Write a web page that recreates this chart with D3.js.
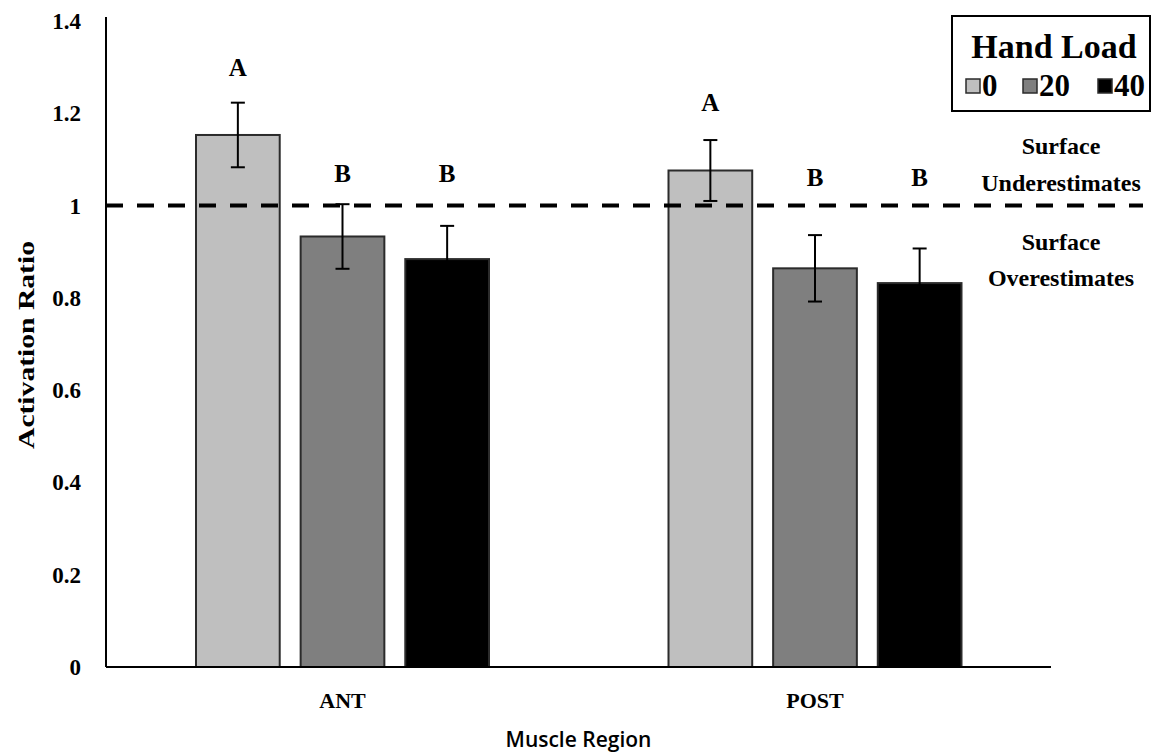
<!DOCTYPE html>
<html lang="en">
<head>
  <meta charset="utf-8">
  <title>Activation Ratio by Muscle Region</title>
  <script src="https://cdn.jsdelivr.net/npm/d3@7"></script>
  <style>
    body { margin: 0; background: #fff; }
    .serif { font-family: "Liberation Serif", "Times New Roman", serif; font-weight: bold; }
  </style>
</head>
<body>
  <div id="my_chart"></div>

  <script>
    // data
    var regions = ["ANT", "POST"];
    var handLoads = ["0", "20", "40"];
    var antMeans = [1.153, 0.933, 0.884];
    var postMeans = [1.076, 0.864, 0.832];
    var antErr = [0.070, 0.070, 0.072];
    var postErr = [0.066, 0.072, 0.075];
    var antLetters = ["A", "B", "B"];
    var postLetters = ["A", "B", "B"];
    var antLetterLevel = [1.300, 1.071, 1.071];
    var postLetterLevel = [1.225, 1.062, 1.062];
    var yTicks = [0, 0.2, 0.4, 0.6, 0.8, 1, 1.2, 1.4];
    var refValue = 1;

    var colors = { "0": "#bfbfbf", "20": "#7f7f7f", "40": "#000000" };

    var rows = [];
    regions.forEach(function (r, ri) {
      var m = ri == 0 ? antMeans : postMeans;
      var e = ri == 0 ? antErr : postErr;
      var l = ri == 0 ? antLetters : postLetters;
      var lv = ri == 0 ? antLetterLevel : postLetterLevel;
      handLoads.forEach(function (h, i) {
        rows.push({ region: r, load: h, mean: m[i], err: e[i], letter: l[i], level: lv[i] });
      });
    });

    var W = 1161, H = 755;
    var plotL = 106, plotR = 1051, plotT = 21, plotB = 667;

    var svg = d3.select("#my_chart")
      .append("svg")
      .attr("width", W)
      .attr("height", H);

    var x0 = d3.scaleBand()
      .domain(regions)
      .range([plotL, plotR])
      .padding(0);

    var x1 = d3.scaleBand()
      .domain(handLoads)
      .range([90, 383])
      .paddingInner(0.2)
      .paddingOuter(0);

    var y = d3.scaleLinear()
      .domain([0, 1.4])
      .range([plotB, plotT]);

    // y tick labels (no tick marks)
    svg.append("g")
      .selectAll("text")
      .data(yTicks)
      .enter()
      .append("text")
      .attr("class", "serif")
      .attr("x", 81)
      .attr("y", function (d) { return y(d); })
      .attr("dy", "0.35em")
      .attr("text-anchor", "end")
      .style("font-size", "23px")
      .text(function (d) { return d; });

    // bars
    svg.append("g")
      .selectAll("rect")
      .data(rows)
      .enter()
      .append("rect")
      .attr("x", function (d) { return x0(d.region) + x1(d.load); })
      .attr("y", function (d) { return y(d.mean); })
      .attr("width", x1.bandwidth())
      .attr("height", function (d) { return y(0) - y(d.mean); })
      .style("fill", function (d) { return colors[d.load]; })
      .style("stroke", "#2b2b2b")
      .style("stroke-width", 2);

    // reference line at ratio 1
    svg.append("line")
      .attr("x1", plotL)
      .attr("x2", 1143)
      .attr("y1", y(refValue))
      .attr("y2", y(refValue))
      .style("stroke", "#000")
      .style("stroke-width", 4)
      .style("stroke-dasharray", "17,14");

    // error bars
    var eb = svg.append("g")
      .selectAll("g")
      .data(rows)
      .enter()
      .append("g")
      .attr("transform", function (d) {
        return "translate(" + (x0(d.region) + x1(d.load) + x1.bandwidth() / 2) + ",0)";
      });
    eb.append("line")
      .attr("y1", function (d) { return y(d.mean + d.err); })
      .attr("y2", function (d) { return y(d.mean - d.err); })
      .style("stroke", "#000").style("stroke-width", 2);
    eb.append("line")
      .attr("x1", -7).attr("x2", 7)
      .attr("y1", function (d) { return y(d.mean + d.err); })
      .attr("y2", function (d) { return y(d.mean + d.err); })
      .style("stroke", "#000").style("stroke-width", 2);
    eb.append("line")
      .attr("x1", -7).attr("x2", 7)
      .attr("y1", function (d) { return y(d.mean - d.err); })
      .attr("y2", function (d) { return y(d.mean - d.err); })
      .style("stroke", "#000").style("stroke-width", 2);

    // significance letters
    eb.append("text")
      .attr("class", "serif")
      .attr("y", function (d) { return y(d.level); })
      .attr("dy", "0.35em")
      .attr("text-anchor", "middle")
      .style("font-size", "25px")
      .text(function (d) { return d.letter; });

    // axes lines
    svg.append("line")
      .attr("x1", plotL).attr("x2", plotL)
      .attr("y1", 17).attr("y2", plotB)
      .style("stroke", "#000").style("stroke-width", 2);
    svg.append("line")
      .attr("x1", plotL).attr("x2", plotR)
      .attr("y1", plotB).attr("y2", plotB)
      .style("stroke", "#000").style("stroke-width", 2);

    // x category labels
    svg.append("g")
      .selectAll("text")
      .data(regions)
      .enter()
      .append("text")
      .attr("class", "serif")
      .attr("x", function (d) { return x0(d) + x1(handLoads[1]) + x1.bandwidth() / 2; })
      .attr("y", 708)
      .attr("text-anchor", "middle")
      .style("font-size", "22px")
      .text(function (d) { return d; });

    // axis titles
    svg.append("text")
      .attr("x", (plotL + plotR) / 2)
      .attr("y", 747)
      .attr("text-anchor", "middle")
      .style("font-family", "'Open Sans', sans-serif")
      .style("font-weight", "600")
      .style("font-size", "21px")
      .text("Muscle Region");

    svg.append("text")
      .attr("class", "serif")
      .attr("transform", "translate(34,345) rotate(-90)")
      .attr("text-anchor", "middle")
      .style("font-size", "24px")
      .attr("textLength", 208)
      .attr("lengthAdjust", "spacingAndGlyphs")
      .text("Activation  Ratio");

    // side notes
    var notes = [["Surface", 154], ["Underestimates", 191], ["Surface", 250], ["Overestimates", 286]];
    svg.append("g")
      .selectAll("text")
      .data(notes)
      .enter()
      .append("text")
      .attr("class", "serif")
      .attr("x", 1061)
      .attr("y", function (d) { return d[1]; })
      .attr("text-anchor", "middle")
      .style("font-size", "24px")
      .text(function (d) { return d[0]; });

    // legend
    var lg = svg.append("g");
    lg.append("rect")
      .attr("x", 952).attr("y", 16)
      .attr("width", 198).attr("height", 95)
      .style("fill", "#fff").style("stroke", "#000").style("stroke-width", 2);
    lg.append("text")
      .attr("class", "serif")
      .attr("x", 1054).attr("y", 58)
      .attr("text-anchor", "middle")
      .style("font-size", "34px")
      .text("Hand Load");
    var legX = [966, 1023, 1098];
    var li = lg.selectAll("g.item")
      .data(handLoads)
      .enter()
      .append("g")
      .attr("transform", function (d, i) { return "translate(" + legX[i] + ",79)"; });
    li.append("rect")
      .attr("width", 14).attr("height", 14)
      .style("fill", function (d) { return colors[d]; })
      .style("stroke", "#2b2b2b").style("stroke-width", 1.5);
    li.append("text")
      .attr("class", "serif")
      .attr("x", 16).attr("y", 17)
      .style("font-size", "31px")
      .text(function (d) { return d; });
  </script>
</body>
</html>
